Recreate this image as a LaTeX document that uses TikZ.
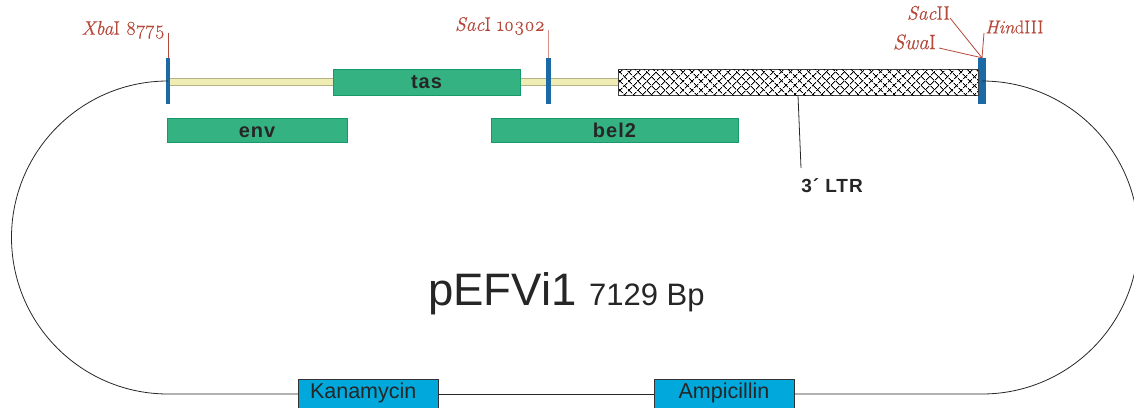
\documentclass[tikz,border=0pt]{standalone}
\usepackage{fontspec}
\setmainfont{Liberation Sans}
\newfontfamily\sitefont{Latin Modern Roman}[Numbers=OldStyle,FakeBold=0.35]
\newfontfamily\genefont{Liberation Sans}[LetterSpace=5]
\usetikzlibrary{patterns.meta,positioning}
\definecolor{genegreen}{HTML}{35B282}
\definecolor{geneedge}{HTML}{169A6C}
\definecolor{sitebar}{HTML}{1B6AA5}
\definecolor{sitered}{HTML}{B5483A}
\definecolor{backbone}{HTML}{EFEDB4}
\definecolor{resist}{HTML}{00A8DC}
\begin{document}
\begin{tikzpicture}[x=1pt, y=-1pt,
  gene/.style={rectangle, draw=geneedge, fill=genegreen, inner sep=0pt, font=\fontsize{20}{20}\genefont\bfseries, text=black!85},
  bar/.style={rectangle, fill=sitebar, inner sep=0pt, minimum height=46pt},
  site/.style={inner sep=0pt, text=sitered, font=\fontsize{19.5}{19.5}\sitefont},
  lead/.style={draw=sitered, line width=0.8pt},
  ring/.style={draw=black!85, line width=0.8pt},
  res/.style={rectangle, draw=black!80, fill=resist, inner sep=0pt, minimum height=29pt, text height=14pt, font=\fontsize{21.5}{21.5}\selectfont, text=black!85}
]
\useasboundingbox (0,0) rectangle (1134,407);
% backbone under everything
\node[rectangle, draw=backbone!75!black, fill=backbone, inner sep=0pt, minimum width=450pt, minimum height=7pt] (strip) at (393,81.5) {};
% restriction sites
\node[bar, minimum width=4pt] (xba) at (168,81) {};
\node[bar, minimum width=5pt] (sac) at (548.5,81) {};
\node[bar, minimum width=8pt] (hind) at (982,81) {};
% genes
\node[gene, minimum width=186.5pt, minimum height=26pt, text height=13pt] (tas) at (426.5,82) {tas};
\node[gene, minimum width=179.5pt, minimum height=24pt, text height=16pt] (env) at (257,130) {env};
\node[gene, minimum width=246.5pt, minimum height=24pt, text height=16pt] (bel) at (614.5,130) {bel2};
\node[rectangle, draw=black!75, line width=0.8pt, inner sep=0pt, minimum width=360pt, minimum height=26pt,
  pattern={Lines[angle=45,distance=6.5pt,line width=1pt]},
  postaction={pattern={Lines[angle=-45,distance=6.5pt,line width=1pt]}}] (ltr) at (798,82) {};
\node[inner sep=0pt, font=\fontsize{19}{19}\genefont\bfseries, text=black!85] (ltrlabel) at (832,186) {3´ LTR};
\coordinate (ltrend) at (801,168);
\draw[ring] (ltr.south) -- (ltrend);
% resistance markers
\node[res, minimum width=139.5pt, text width=116pt, align=left] (kana) at (368,394) {Kanamycin};
\node[res, minimum width=139.5pt] (amp) at (724,394) {Ampicillin};
% plasmid ring
\draw[ring] (xba.center) arc[start angle=270, end angle=90, radius=156.5] -- (kana.west);
\draw[ring] (kana.east) -- (amp.west);
\draw[ring] (hind.center) arc[start angle=-90, end angle=90, radius=156.5] -- (amp.east);
% site labels
\node[site, anchor=east] (xbalabel) at (165,30) {\textit{Xba}I 8775};
\node[site, anchor=east] (saclabel) at (545,26) {\textit{Sac}I 10302};
\node[site, anchor=east] (sactwo) at (950,13) {\textit{Sac}II};
\node[site, anchor=east, font=\fontsize{21}{21}\sitefont] (swa) at (936,42) {\textit{Swa}I};
\node[site, anchor=west, font=\fontsize{18.5}{18.5}\sitefont] (hindlabel) at (985,27) {\textit{Hin}dIII};
\coordinate (sactwoend) at (950,18);
\coordinate (swaend) at (939,48);
\coordinate (hindend) at (984,33);
\draw[lead] (xba.north) -- ++(0,-25);
\draw[lead, draw=sitered!60] (sac.north) -- ++(0,-28);
\draw[lead] (hind.north) -- (sactwoend);
\draw[lead] (hind.north) -- (swaend);
\draw[lead] (hind.north) -- (hindend);
% name of the plasmid
\node[inner sep=0pt, anchor=base west, text=black!85, font=\fontsize{45.5}{46}\selectfont] (name) at (428,305) {pEFVi1};
\node[inner sep=0pt, text=black!85, font=\fontsize{31}{31}\selectfont, anchor=base west] (size) at (589,305) {7129 Bp};
\end{tikzpicture}
\end{document}
